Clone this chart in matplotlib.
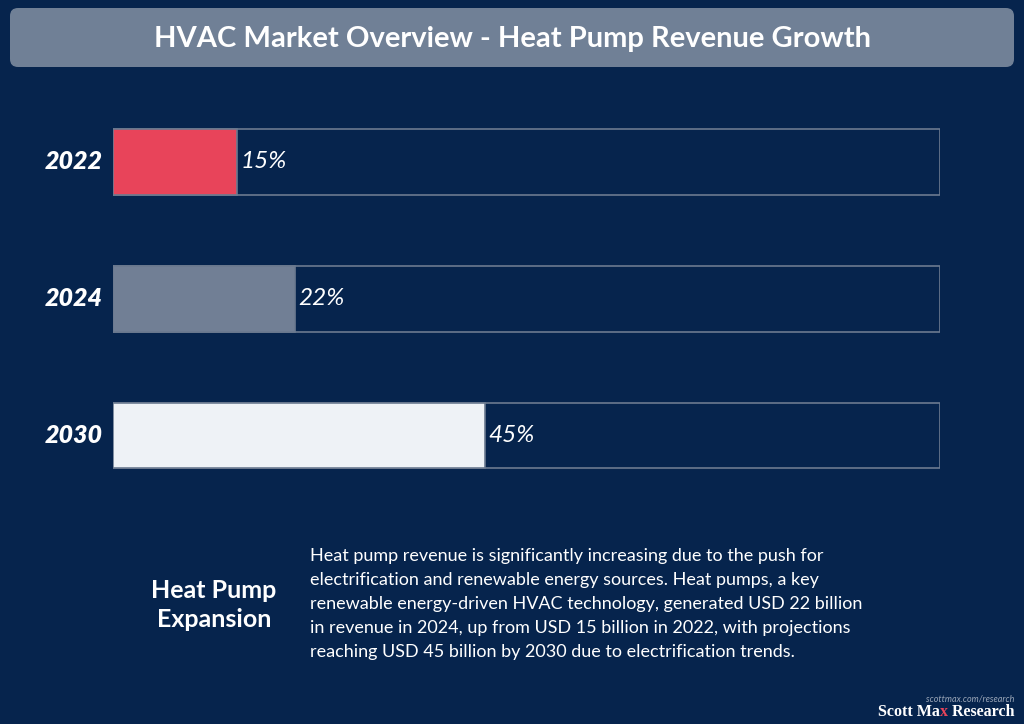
import matplotlib
matplotlib.use("Agg")
import matplotlib.pyplot as plt
from matplotlib.patches import FancyBboxPatch

# data
years = ["2022", "2024", "2030"]
shares = [15, 22, 45]
bar_colors = ["#E8445A", "#717F95", "#EEF2F6"]

title = "HVAC Market Overview - Heat Pump Revenue Growth"
side_title = "Heat Pump\nExpansion"
body = ("Heat pump revenue is significantly increasing due to the push for\n"
        "electrification and renewable energy sources. Heat pumps, a key\n"
        "renewable energy-driven HVAC technology, generated USD 22 billion\n"
        "in revenue in 2024, up from USD 15 billion in 2022, with projections\n"
        "reaching USD 45 billion by 2030 due to electrification trends.")

BG = "#06244D"
W, H = 1024, 724

plt.rcParams["font.family"] = ["Lato", "DejaVu Sans"]

fig = plt.figure(figsize=(W / 100, H / 100), dpi=100, facecolor=BG)

# decoration layer in pixel coordinates
deco = fig.add_axes([0, 0, 1, 1])
deco.set_xlim(0, W)
deco.set_ylim(H, 0)
deco.axis("off")
deco.add_patch(FancyBboxPatch((10, 8), 1004, 59, boxstyle="round,pad=0,rounding_size=8",
                              facecolor="#708096", edgecolor="none"))
deco.text(512, 39, title, color="white", fontsize=21, fontweight="bold",
          ha="center", va="center")

deco.text(214, 605, side_title, color="white", fontsize=18, fontweight="bold",
          ha="center", va="center", linespacing=1.28)
deco.text(310, 604, body, color="white", fontsize=13, ha="left", va="center",
          linespacing=1.6)

deco.text(1014, 701, "scottmax.com/research", color="#9AA6B8", fontsize=6.5,
          style="italic", ha="right", va="baseline")
# logo with the red "x"
logo_kw = dict(fontsize=11.5, fontweight="bold", family="Liberation Serif",
               va="baseline")
t3 = deco.text(1014, 716, " Research", color="white", ha="right", **logo_kw)
fig.canvas.draw()
r = fig.canvas.get_renderer()
inv = deco.transData.inverted()
x3 = inv.transform((t3.get_window_extent(r).x0, 0))[0]
t2 = deco.text(x3, 716, "x", color="#E8445A", ha="right", **logo_kw)
x2 = inv.transform((t2.get_window_extent(r).x0, 0))[0]
deco.text(x2, 716, "Scott Ma", color="white", ha="right", **logo_kw)

# bar chart
ax = fig.add_axes([113 / W, 1 - 504 / H, 827 / W, 410.5 / H])
ax.set_facecolor("none")
ypos = list(range(len(years)))
ax.barh(ypos, [100] * len(years), height=0.48, facecolor="none",
        edgecolor="#6B7A90", linewidth=1.2)
ax.barh(ypos, shares, height=0.48, color=bar_colors, edgecolor="#6B7A90",
        linewidth=1.2)
for y, yr, v in zip(ypos, years, shares):
    ax.text(-1.3, y, yr, color="white", fontsize=18, fontweight="heavy",
            style="italic", ha="right", va="center")
    ax.text(v + 0.4, y, f"{v}%", color="white", fontsize=17.5, fontweight="normal",
            style="italic", ha="left", va="center")
ax.set_xlim(0, 100)
ax.set_ylim(2.5, -0.5)
ax.axis("off")

fig.savefig("out.png", dpi=100, facecolor=BG)
